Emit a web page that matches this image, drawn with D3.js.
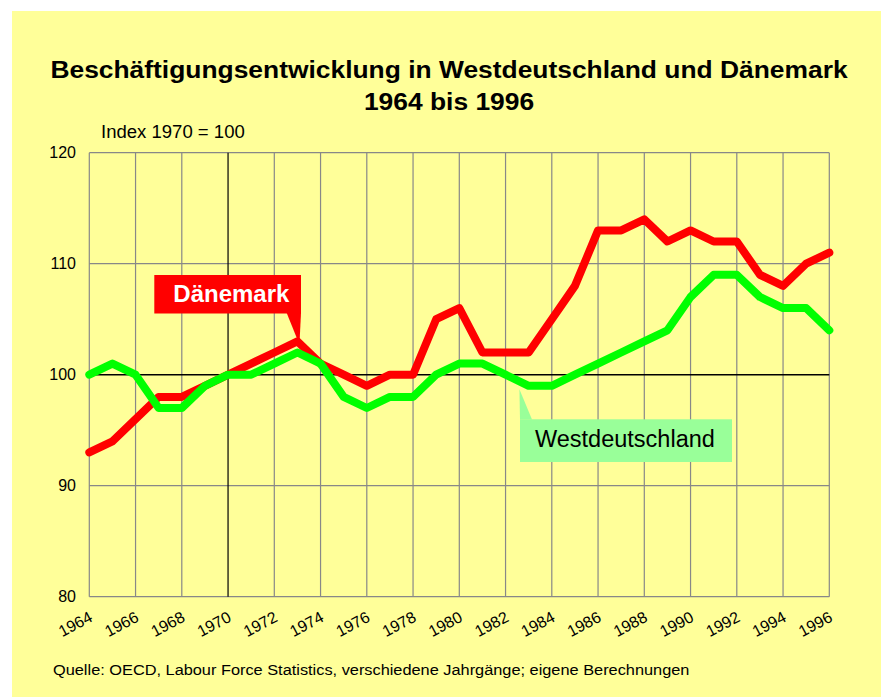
<!DOCTYPE html>
<html>
<head>
<meta charset="utf-8">
<script src="https://cdn.jsdelivr.net/npm/d3@7"></script>
<style>
  body { margin: 0; background: #fff; }
  svg { display: block; font-family: "Liberation Sans", Arial, sans-serif; }
</style>
</head>
<body>
<svg id="chart" width="882" height="697"></svg>
<script>
const years = d3.range(1964, 1997);
const daenemark = [93, 94, 96, 98, 98, 99, 100, 101, 102, 103, 101, 100, 99, 100, 100, 105, 106,
                   102, 102, 102, 105, 108, 113, 113, 114, 112, 113, 112, 112, 109, 108, 110, 111];
const westdeutschland = [100, 101, 100, 97, 97, 99, 100, 100, 101, 102, 101, 98, 97, 98, 98, 100, 101,
                         101, 100, 99, 99, 100, 101, 102, 103, 104, 107, 109, 109, 107, 106, 106, 104];
const yTicks = [80, 90, 100, 110, 120];
const xTicks = d3.range(1964, 1997, 2);
const titleLines = ['Beschäftigungsentwicklung in Westdeutschland und Dänemark', '1964 bis 1996'];

const svg = d3.select('#chart');

// yellow panel
svg.append('rect')
    .attr('x', 12).attr('y', 11)
    .attr('width', 869).attr('height', 686)
    .attr('fill', '#ffff99');

const x = d3.scaleLinear().domain([1964, 1996]).range([89.3, 829.3]);
const y = d3.scaleLinear().domain([80, 120]).range([596.7, 152.7]);

// title (reference is a bit wider than Arial, so stretch horizontally)
svg.selectAll('text.title')
    .data(titleLines)
    .join('text')
    .attr('class', 'title')
    .attr('transform', (d, i) => `translate(449,${78 + i * 32}) scale(1.1,1)`)
    .attr('text-anchor', 'middle')
    .attr('font-size', 24)
    .attr('font-weight', 'bold')
    .text(d => d);

svg.append('text')
    .attr('transform', 'translate(101,137.5) scale(1.06,1)')
    .attr('font-size', 17.5)
    .text('Index 1970 = 100');

// grid
const grid = svg.append('g');
grid.selectAll('line.v')
    .data(xTicks)
    .join('line')
    .attr('x1', d => x(d)).attr('x2', d => x(d))
    .attr('y1', y(80)).attr('y2', y(120))
    .attr('stroke', d => d === 1970 ? '#000' : '#888')
    .attr('stroke-width', 1.2);
grid.selectAll('line.h')
    .data(yTicks)
    .join('line')
    .attr('x1', x(1964)).attr('x2', x(1996))
    .attr('y1', d => y(d)).attr('y2', d => y(d))
    .attr('stroke', d => d === 100 ? '#000' : '#888')
    .attr('stroke-width', d => d === 100 ? 1.5 : 1.2);
grid.selectAll('line').filter(function() { return d3.select(this).attr('stroke') === '#000'; }).raise();

// axis labels
svg.selectAll('text.ylab')
    .data(yTicks)
    .join('text')
    .attr('class', 'ylab')
    .attr('x', 76)
    .attr('y', d => y(d))
    .attr('dy', '0.35em')
    .attr('text-anchor', 'end')
    .attr('font-size', 16)
    .text(d => d);

svg.selectAll('text.xlab')
    .data(xTicks)
    .join('text')
    .attr('class', 'xlab')
    .attr('text-anchor', 'end')
    .attr('font-size', 16)
    .attr('transform', d => `translate(${x(d) - 1},${y(80) + 14}) rotate(-28)`)
    .attr('dy', '0.7em')
    .text(d => d);

// lines
const line = d3.line()
    .x((d, i) => x(years[i]))
    .y(d => y(d));

svg.append('path')
    .datum(daenemark)
    .attr('d', line)
    .attr('fill', 'none')
    .attr('stroke', '#ff0000')
    .attr('stroke-width', 8)
    .attr('stroke-linejoin', 'round')
    .attr('stroke-linecap', 'round');

svg.append('path')
    .datum(westdeutschland)
    .attr('d', line)
    .attr('fill', 'none')
    .attr('stroke', '#00ff00')
    .attr('stroke-width', 8)
    .attr('stroke-linejoin', 'round')
    .attr('stroke-linecap', 'round');

// callout Dänemark
const dkTip = [x(1973) + 2, y(103) + 3];
svg.append('path')
    .attr('d', `M286.7,313 L301,313 L${dkTip[0]},${dkTip[1]} Z`)
    .attr('fill', '#ff0000');
svg.append('rect')
    .attr('x', 154.3).attr('y', 275)
    .attr('width', 146.7).attr('height', 38.5)
    .attr('fill', '#ff0000');
svg.append('text')
    .attr('x', 173.3).attr('y', 301.7)
    .attr('font-size', 24)
    .attr('font-weight', 'bold')
    .attr('fill', '#fff')
    .text('Dänemark');

// callout Westdeutschland
const wdTip = [x(1982.6), y(98.7)];
svg.append('path')
    .attr('d', `M${wdTip[0]},${wdTip[1]} L520,419.5 L532,419.5 Z`)
    .attr('fill', '#99ff99');
svg.append('rect')
    .attr('x', 520).attr('y', 419.3)
    .attr('width', 212).attr('height', 42.7)
    .attr('fill', '#99ff99');
svg.append('text')
    .attr('x', 535).attr('y', 447)
    .attr('font-size', 23.5)
    .text('Westdeutschland');

// source
svg.append('text')
    .attr('transform', 'translate(53,675) scale(1.09,1)')
    .attr('font-size', 15)
    .text('Quelle: OECD, Labour Force Statistics, verschiedene Jahrgänge; eigene Berechnungen');
</script>
</body>
</html>
